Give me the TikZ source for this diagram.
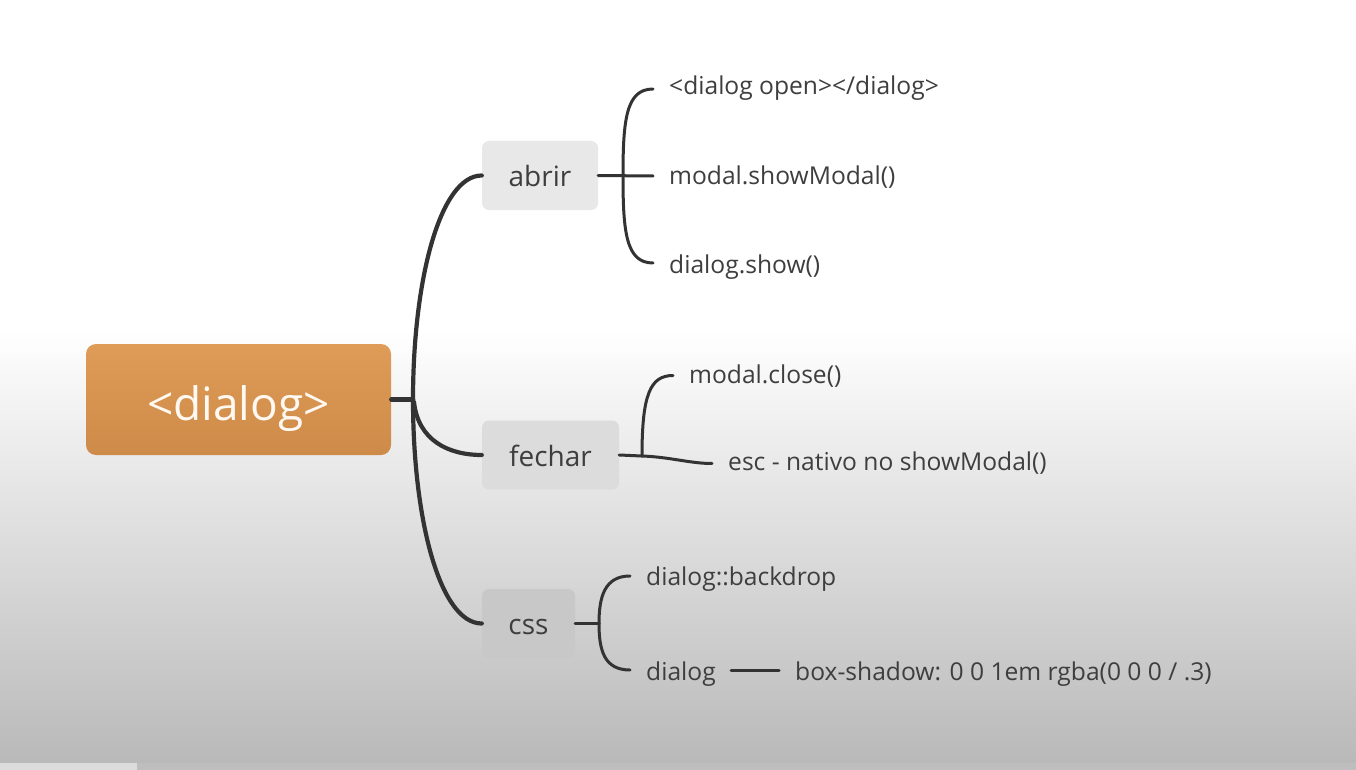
\documentclass[tikz,border=0pt]{standalone}
\usepackage{fontspec}
\setmainfont{Open Sans}
\definecolor{txt}{HTML}{3E3E3E}
\definecolor{ln}{HTML}{333333}
\definecolor{rootA}{HTML}{DF9C58}
\definecolor{rootB}{HTML}{CE8A48}
\definecolor{boxA}{HTML}{E8E8E8}
\definecolor{boxB}{HTML}{DCDCDC}
\definecolor{boxC}{HTML}{C8C8C8}
\definecolor{bgB}{HTML}{B9B9B9}
\definecolor{barA}{HTML}{DCDCDC}
\definecolor{barB}{HTML}{BEBEBE}
\begin{document}
\begin{tikzpicture}[x=1pt,y=-1pt,
  rootbox/.style={rounded corners=10pt, minimum width=305pt, minimum height=111pt, inner sep=0pt,
     top color=rootA, bottom color=rootB, draw=none, text=white!95!orange,
     text height=46pt, text depth=5pt,
     font=\fontsize{46}{50}\selectfont},
  branchbox/.style={rounded corners=7pt, minimum height=69pt, inner sep=0pt, text=txt,
     text height=26pt, text depth=4pt,
     font=\fontsize{28}{32}\selectfont},
  leaf/.style={anchor=base west, inner sep=0pt, text=txt,
     font=\fontsize{24.6}{28}\selectfont},
  trunk/.style={draw=ln, line width=4.2pt, line cap=round},
  twig/.style={draw=ln, line width=3pt, line cap=round},
]
\useasboundingbox (0,0) rectangle (1356,770);
% background
\fill[white] (0,0) rectangle (1356,330);
\shade[top color=white, bottom color=bgB] (0,329.5) rectangle (1356,763);
\fill[barA] (0,763) rectangle (137,770);
\fill[barB] (137,763) rectangle (1356,770);

% root and branches
\node[rootbox] (root) at (238.5,399.5) {<dialog>};
\node[branchbox, fill=boxA, minimum width=116pt] (abrir) at (540,175.5) {abrir};
\node[branchbox, fill=boxB, minimum width=137pt] (fechar) at (550.5,455) {fechar};
\node[branchbox, fill=boxC, minimum width=93pt] (css) at (528.5,623.5) {css};

% leaves
\node[leaf] (l1) at (669,95) {<dialog open></dialog>};
\node[leaf] (l2) at (669,185) {modal.showModal()};
\node[leaf] (l3) at (669,273) {dialog.show()};
\node[leaf] (l4) at (689,383) {modal.close()};
\node[leaf] (l5) at (728,470) {esc - nativo no showModal()};
\node[leaf] (l6) at (646,585) {dialog::backdrop};
\node[leaf] (l7) at (646,680) {dialog};
\node[leaf] (l8) at (795,680) {box-shadow: 0 0 1em rgba(0 0 0 / .3)};

% end points of the leaf connectors
\coordinate (e1) at (653,89);
\coordinate (e2) at (653,176);
\coordinate (e3) at (653,263);
\coordinate (e4) at (673,375.5);
\coordinate (e5) at (712,463.5);
\coordinate (e6) at (630,576);
\coordinate (e7) at (630,670);
\coordinate (e8a) at (731,670.5);
\coordinate (e8b) at (779,670.5);

% trunk
\coordinate (j) at (413,399.5);
\draw[trunk] (root.east) -- (j);
\draw[trunk] (j) .. controls (413,280) and (440,175.5) .. (abrir.west);
\draw[trunk] (j) .. controls (413,520) and (440,623.5) .. (css.west);
\draw[trunk] (414,402) .. controls (418,440) and (448,455) .. (fechar.west);

% abrir bracket
\draw[twig] (abrir.east) -- (e2);
\draw[twig] (e1) .. controls (626,89) and (623,120) .. (623,176)
               .. controls (623,232) and (626,263) .. (e3);

% fechar bracket
\coordinate (f0) at (642,456);
\draw[twig] (fechar.east) -- (f0);
\draw[twig] (f0) .. controls (642,395) and (650,375.5) .. (e4);
\draw[twig] (f0) .. controls (670,457) and (690,463.5) .. (e5);

% css bracket
\coordinate (c0) at (599,623.5);
\draw[twig] (css.east) -- (c0);
\draw[twig] (e6) .. controls (604,576) and (599,598) .. (c0)
               .. controls (599,650) and (604,670) .. (e7);
\draw[twig] (e8a) -- (e8b);
\end{tikzpicture}
\end{document}
